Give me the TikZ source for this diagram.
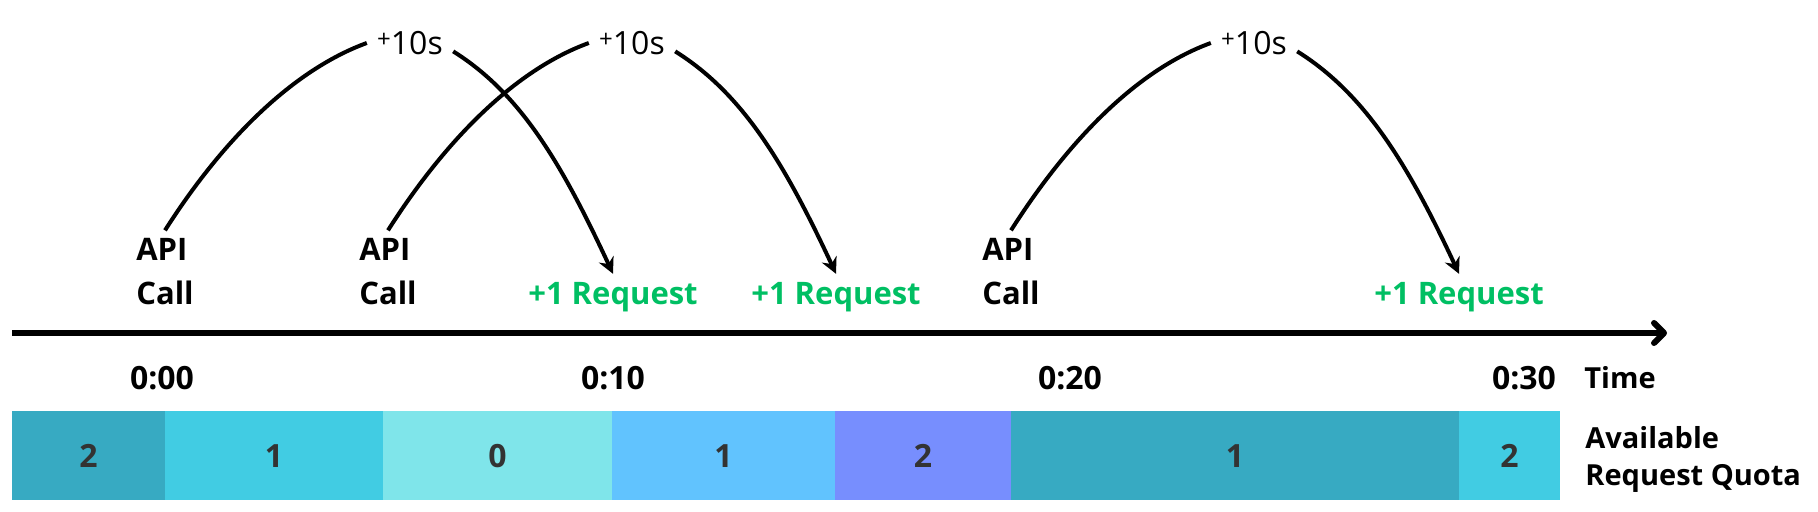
\documentclass[tikz,border=0pt]{standalone}
\usepackage{fontspec}
\setmainfont{Open Sans}
\usetikzlibrary{arrows.meta}
\definecolor{quotateal}{HTML}{37AAC2}
\definecolor{quotacyan}{HTML}{41CCE3}
\definecolor{quotapale}{HTML}{7FE5EA}
\definecolor{quotasky}{HTML}{61C3FE}
\definecolor{quotaviolet}{HTML}{778EFE}
\definecolor{reqgreen}{HTML}{00BF63}
\definecolor{numgray}{HTML}{333333}
\begin{document}
\begin{tikzpicture}[x=0.5pt,y=0.5pt,
  call/.style={font=\fontsize{15.5}{22}\selectfont\bfseries,align=left,inner sep=4pt},
  refill/.style={font=\fontsize{15.5}{22}\selectfont\bfseries,text=reqgreen,inner sep=4pt},
  delay/.style={font=\fontsize{16}{18}\selectfont,inner xsep=5pt,inner ysep=2pt},
  stamp/.style={font=\fontsize{16}{18}\selectfont\bfseries,inner sep=0pt},
  side/.style={font=\fontsize{14.5}{18.5}\selectfont\bfseries,align=left,anchor=west,inner sep=0pt},
  quota/.style={font=\fontsize{16}{18}\selectfont\bfseries,text=numgray},
  rise/.style={line width=2pt,out=57.5,in=200,out distance=58pt,in distance=36.5pt},
  fall/.style={line width=2pt,-{Stealth[length=8pt,width=8pt]},out=-32,in=115,out distance=40pt,in distance=60.5pt},
  timeline/.style={line width=3pt,-{Straight Barb[length=5pt,width=10pt,round]}}]
\useasboundingbox (0,0) rectangle (1818,512);

\node[call] (api1) at (165,240) {API\\Call};
\node[call] (api2) at (388,240) {API\\Call};
\node[call] (api3) at (1011,240) {API\\Call};

\node[refill] (req1) at (613,215) {+1 Request};
\node[refill] (req2) at (836,215) {+1 Request};
\node[refill] (req3) at (1459,215) {+1 Request};

\node[delay] (gap1) at (410,469) {\raisebox{3.5pt}{\fontsize{12}{12}\selectfont+}10s};
\node[delay] (gap2) at (632,469) {\raisebox{3.5pt}{\fontsize{12}{12}\selectfont+}10s};
\node[delay] (gap3) at (1254,469) {\raisebox{3.5pt}{\fontsize{12}{12}\selectfont+}10s};

\draw[rise] (api1.north) to (gap1.west);
\draw[fall] (gap1.-11) to (req1.north);
\draw[rise] (api2.north) to (gap2.west);
\draw[fall] (gap2.-11) to (req2.north);
\draw[rise] (api3.north) to (gap3.west);
\draw[fall] (gap3.-11) to (req3.north);

\coordinate (ax0) at (12,179);
\coordinate (ax1) at (1667,179);
\draw[timeline] (ax0) -- (ax1);

\node[stamp] (t0) at (162,134) {0:00};
\node[stamp] (t10) at (613,134) {0:10};
\node[stamp] (t20) at (1070,134) {0:20};
\node[stamp] (t30) at (1524,134) {0:30};
\node[side] (timelab) at (1584,134) {Time};

\foreach \xa/\xb/\col/\val [count=\i] in {12/165/quotateal/2,165/383/quotacyan/1,383/612/quotapale/0,612/835/quotasky/1,835/1011/quotaviolet/2,1011/1459/quotateal/1,1459/1560/quotacyan/2}{
  \fill[\col] (\xa,12) rectangle (\xb,100.5);
  \node[quota] (q\i) at ({(\xa+\xb)/2},56) {\val};
}
\node[side] (quotalab) at (1585,53) {Available\\Request Quota};
\end{tikzpicture}
\end{document}
